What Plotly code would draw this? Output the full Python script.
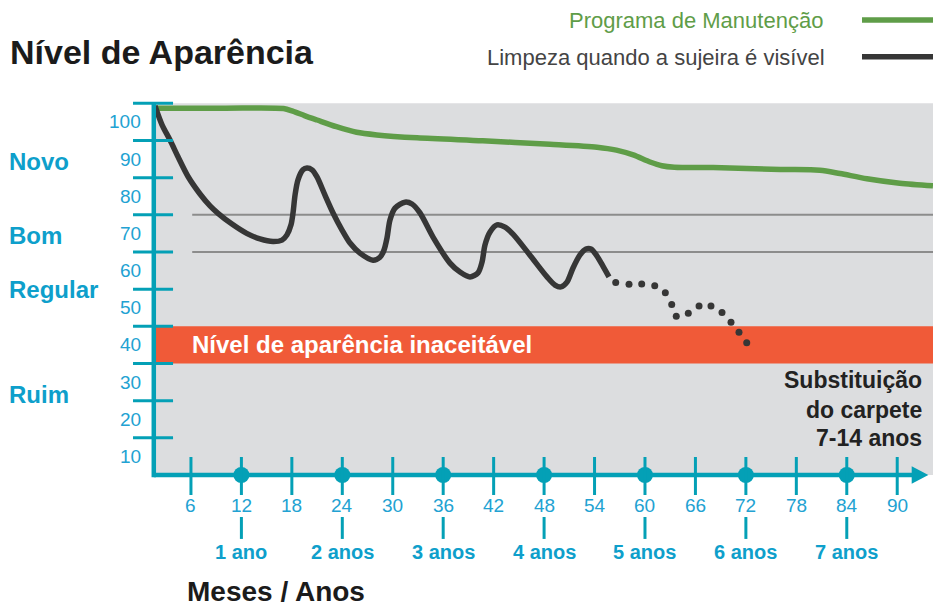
import plotly.graph_objects as go

# ---------------- data ----------------
green_x = [1.7, 10.0, 17.0, 18.1, 19.5, 21.0, 23.3, 25.7, 28.1, 32.9, 40.7, 48.7, 54.3,
           56.6, 58.6, 60.6, 62.0, 63.5, 68.1, 76.1, 80.8, 83.2, 86.4, 90.3, 94.25]
green_y = [103.7, 103.7, 103.6, 102.9, 101.7, 100.5, 98.7, 97.2, 96.5, 95.7, 94.9, 94.0, 93.2,
           92.4, 91.1, 89.2, 88.2, 87.8, 87.7, 87.2, 87.0, 86.1, 84.7, 83.5, 82.8]

dark_x = [1.72, 2.56, 3.51, 4.46, 5.65, 7.08, 8.27, 9.22, 10.88, 12.63, 14.21, 15.76,
          16.83, 17.42, 17.9, 18.14, 18.38, 18.73, 19.32, 19.8, 20.4, 20.99, 21.94,
          22.9, 23.97, 24.92, 26.1, 27.65, 28.48, 28.96, 29.32, 29.67, 30.27, 31.46,
          32.29, 33.24, 34.79, 36.81, 38.0, 39.19, 40.14, 40.62, 40.97, 41.57, 42.4,
          43.35, 44.3, 46.3, 48.35, 49.3, 50.0, 50.72, 51.44, 52.27, 52.98, 53.58,
          54.29, 55.0, 55.72]
dark_y = [104.3, 99.2, 95.1, 90.6, 85.3, 80.6, 77.4, 75.4, 72.5, 70.0, 68.5, 67.8,
          68.2, 69.6, 72.3, 75.5, 80.3, 84.4, 87.1, 87.6, 87.1, 85.2, 80.3,
          75.5, 70.9, 67.4, 64.7, 62.8, 63.6, 65.5, 68.8, 73.6, 76.8, 78.4,
          77.9, 75.5, 69.0, 62.0, 59.6, 58.3, 59.4, 62.3, 66.9, 70.4, 72.3,
          71.7, 69.8, 64.2, 58.3, 56.1, 55.6, 56.9, 60.7, 64.2, 65.8, 65.8,
          63.9, 61.2, 58.3]

dots_x = [56.52, 58.1, 59.61, 61.16, 62.42, 63.18, 63.72, 65.15, 66.43, 67.85,
          69.16, 70.23, 71.18, 72.1]
dots_y = [56.8, 56.3, 56.4, 55.9, 54.0, 50.9, 47.7, 48.5, 50.5, 50.5,
          48.7, 46.1, 43.4, 40.6]

y_tick_labels = [100, 90, 80, 70, 60, 50, 40, 30, 20, 10]
y_tick_marks = [105, 95, 85, 75, 65, 55, 45, 35, 25, 15]
month_ticks = [6, 12, 18, 24, 30, 36, 42, 48, 54, 60, 66, 72, 78, 84, 90]
year_ticks = [12, 24, 36, 48, 60, 72, 84]
year_labels = ["1 ano", "2 anos", "3 anos", "4 anos", "5 anos", "6 anos", "7 anos"]
levels = ["Novo", "Bom", "Regular", "Ruim"]
level_pos = [89.4, 69.4, 55.0, 26.7]
grid_levels = [75, 65]
band_range = [35, 45]

# ---------------- style ----------------
FONT = "Liberation Sans, Arial, Helvetica, sans-serif"
TEAL = "#04a0b6"
LBLUE = "#22a2d2"
YBLUE = "#0e9fcb"
GREEN = "#5f9d48"
DARK = "#363636"
RED = "#f05a38"
BG = "#dcdddf"
GRID = "#8c8c8c"

X0, X1 = -16.711, 94.255
Y0, Y1 = -30.78, 132.79
AX_X = 1.58        # y-axis position (months)
AX_Y = 5           # x-axis position (value)

fig = go.Figure()

fig.add_trace(go.Scatter(x=green_x, y=green_y, mode="lines",
                         line=dict(color=GREEN, width=5.5, shape="spline", smoothing=0.8),
                         hoverinfo="skip", showlegend=False))
fig.add_trace(go.Scatter(x=dark_x, y=dark_y, mode="lines",
                         line=dict(color=DARK, width=5.5, shape="spline", smoothing=0.8),
                         hoverinfo="skip", showlegend=False))
fig.add_trace(go.Scatter(x=dots_x, y=dots_y, mode="markers",
                         marker=dict(color=DARK, size=7),
                         hoverinfo="skip", showlegend=False))
fig.add_trace(go.Scatter(x=year_ticks, y=[AX_Y] * len(year_ticks), mode="markers",
                         marker=dict(color=TEAL, size=16),
                         hoverinfo="skip", showlegend=False, cliponaxis=False))

shapes = []
shapes.append(dict(type="rect", xref="x", yref="y", x0=AX_X, x1=X1, y0=AX_Y, y1=105,
                   fillcolor=BG, line=dict(width=0), layer="below"))
shapes.append(dict(type="rect", xref="x", yref="y", x0=AX_X, x1=X1,
                   y0=band_range[0], y1=band_range[1],
                   fillcolor=RED, line=dict(width=0), layer="below"))
for g in grid_levels:
    shapes.append(dict(type="line", xref="x", yref="y", x0=6.15, x1=X1, y0=g, y1=g,
                       line=dict(color=GRID, width=2), layer="below"))
shapes.append(dict(type="line", xref="x", yref="y", x0=AX_X, x1=AX_X, y0=AX_Y - 0.6, y1=105,
                   line=dict(color=TEAL, width=4.5), layer="above"))
for t in y_tick_marks:
    shapes.append(dict(type="line", xref="x", yref="y", x0=-0.89, x1=3.87, y0=t, y1=t,
                       line=dict(color=TEAL, width=3), layer="above"))
shapes.append(dict(type="line", xref="x", yref="y", x0=AX_X, x1=91.9, y0=AX_Y, y1=AX_Y,
                   line=dict(color=TEAL, width=4.5), layer="above"))
shapes.append(dict(type="path", xref="x", yref="y",
                   path=f"M 91.72 {AX_Y + 2.37} L 93.70 {AX_Y} L 91.72 {AX_Y - 2.37} Z",
                   fillcolor=TEAL, line=dict(width=0), layer="above"))
for m in month_ticks:
    shapes.append(dict(type="line", xref="x", yref="y", x0=m, x1=m, y0=-0.38, y1=9.84,
                       line=dict(color=TEAL, width=3), layer="above"))
for m in year_ticks:
    shapes.append(dict(type="line", xref="x", yref="y", x0=m, x1=m, y0=-12.2, y1=-6.3,
                       line=dict(color=TEAL, width=3), layer="above"))
shapes.append(dict(type="line", xref="paper", yref="paper", x0=862 / 933, x1=1,
                   y0=1 - 20 / 608, y1=1 - 20 / 608, line=dict(color=GREEN, width=5.5)))
shapes.append(dict(type="line", xref="paper", yref="paper", x0=862 / 933, x1=1,
                   y0=1 - 56.7 / 608, y1=1 - 56.7 / 608, line=dict(color=DARK, width=5.5)))

ann = []
for v in y_tick_labels:
    ann.append(dict(x=0.3, y=v, xref="x", yref="y", text=str(v), showarrow=False,
                    xanchor="right", yanchor="middle",
                    font=dict(family=FONT, size=19, color=LBLUE)))
for m in month_ticks:
    ann.append(dict(x=m, y=-3.07, xref="x", yref="y", text=str(m), showarrow=False,
                    xanchor="center", yanchor="middle",
                    font=dict(family=FONT, size=19, color=LBLUE)))
for m, lab in zip(year_ticks, year_labels):
    ann.append(dict(x=m, y=-15.6, xref="x", yref="y", text=f"<b>{lab}</b>", showarrow=False,
                    xanchor="center", yanchor="middle",
                    font=dict(family=FONT, size=20, color=YBLUE)))
for lab, p in zip(levels, level_pos):
    ann.append(dict(x=7 / 933, y=p, xref="paper", yref="y", text=f"<b>{lab}</b>",
                    showarrow=False, xanchor="left", yanchor="middle",
                    font=dict(family=FONT, size=24, color=YBLUE)))

ann.append(dict(x=8 / 933, y=1 - 52 / 608, xref="paper", yref="paper",
                text="<b>Nível de Aparência</b>", showarrow=False,
                xanchor="left", yanchor="middle",
                font=dict(family=FONT, size=34, color="#1b1b1b")))
ann.append(dict(x=185 / 933, y=1 - 591 / 608, xref="paper", yref="paper",
                text="<b>Meses / Anos</b>", showarrow=False,
                xanchor="left", yanchor="middle",
                font=dict(family=FONT, size=28, color="#1b1b1b")))
ann.append(dict(x=825 / 933, y=1 - 21 / 608, xref="paper", yref="paper",
                text="Programa de Manutenção", showarrow=False,
                xanchor="right", yanchor="middle",
                font=dict(family=FONT, size=22, color=GREEN)))
ann.append(dict(x=827 / 933, y=1 - 57 / 608, xref="paper", yref="paper",
                text="Limpeza quando a sujeira é visível", showarrow=False,
                xanchor="right", yanchor="middle",
                font=dict(family=FONT, size=22, color="#444444")))
ann.append(dict(x=190 / 933, y=40, xref="paper", yref="y",
                text="<b>Nível de aparência inaceitável</b>", showarrow=False,
                xanchor="left", yanchor="middle",
                font=dict(family=FONT, size=24, color="white")))
for txt, p in zip(["Substituição", "do carpete", "7-14 anos"], [30.56, 22.49, 14.96]):
    ann.append(dict(x=923.5 / 933, y=p, xref="paper", yref="y",
                    text=f"<b>{txt}</b>", showarrow=False,
                    xanchor="right", yanchor="middle",
                    font=dict(family=FONT, size=23, color="#222222")))

fig.update_layout(
    width=933, height=608,
    margin=dict(l=0, r=0, t=0, b=0),
    paper_bgcolor="white", plot_bgcolor="white",
    xaxis=dict(range=[X0, X1], visible=False, fixedrange=True),
    yaxis=dict(range=[Y0, Y1], visible=False, fixedrange=True),
    shapes=shapes, annotations=ann, showlegend=False,
)

fig.write_html("out.html", config={"displayModeBar": False})

# remove the default page margin so the figure fills the window exactly
with open("out.html", "r", encoding="utf-8") as f:
    html = f.read()
html = html.replace("<head>", "<head><style>html,body{margin:0;padding:0;overflow:hidden;}</style>", 1)
with open("out.html", "w", encoding="utf-8") as f:
    f.write(html)
